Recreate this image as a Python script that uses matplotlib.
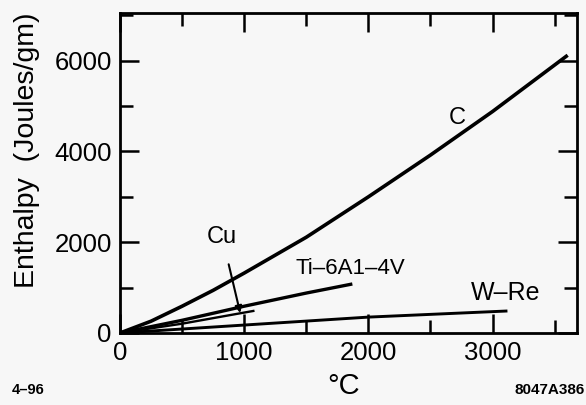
import matplotlib
matplotlib.use("Agg")
import matplotlib.pyplot as plt
from matplotlib.ticker import MultipleLocator

# Data
c_temp = [0, 250, 500, 750, 1000, 1500, 2000, 2500, 3000, 3605]
c_enth = [0, 260, 590, 940, 1320, 2110, 3000, 3920, 4880, 6120]

ti_temp = [0, 500, 1000, 1500, 1871]
ti_enth = [0, 280, 590, 880, 1080]

cu_temp = [0, 500, 1000, 1083]
cu_enth = [0, 205, 450, 490]

wre_temp = [0, 1000, 2000, 3120]
wre_enth = [0, 175, 350, 485]

plt.rcParams['font.family'] = ['Liberation Sans', 'DejaVu Sans']
bg = '#f7f7f7'
fig = plt.figure(figsize=(5.86, 4.05), dpi=100, facecolor=bg)
ax = fig.add_axes([0.2048, 0.1778, 0.7798, 0.7889])
ax.set_facecolor(bg)

ax.plot(c_temp, c_enth, color='black', lw=2.6, solid_capstyle='butt')
ax.plot(ti_temp, ti_enth, color='black', lw=2.4, solid_capstyle='butt')
ax.plot(cu_temp, cu_enth, color='black', lw=1.7, solid_capstyle='butt')
ax.plot(wre_temp, wre_enth, color='black', lw=2.1, solid_capstyle='butt')

ax.set_xlim(0, 3680)
ax.set_ylim(0, 7040)
ax.xaxis.set_major_locator(MultipleLocator(1000))
ax.xaxis.set_minor_locator(MultipleLocator(500))
ax.yaxis.set_major_locator(MultipleLocator(2000))
ax.yaxis.set_minor_locator(MultipleLocator(1000))
ax.tick_params(which='both', direction='in', top=True, right=True, width=1.8,
               labelsize=18.5, colors='black')
ax.tick_params(which='major', length=13.5, pad=6)
ax.tick_params(which='minor', length=9.5)
for s in ax.spines.values():
    s.set_linewidth(2.0)

ax.set_xlabel('°C', fontsize=21, va='center')
ax.xaxis.set_label_coords(0.49, -0.165)
ax.set_ylabel('Enthalpy  (Joules/gm)', fontsize=20.5, va='center')
ax.yaxis.set_label_coords(-0.203, 0.572)

ax.text(2718, 4736, 'C', fontsize=17, ha='center', va='center')
ax.text(1855, 1432, 'Ti–6A1–4V', fontsize=16, ha='center', va='center')
ax.text(3105, 881, 'W–Re', fontsize=18, ha='center', va='center')
ax.annotate('Cu', xy=(968, 440), xytext=(823, 2115), fontsize=17,
            ha='center', va='center',
            arrowprops=dict(arrowstyle='-|>', color='black', lw=1.5,
                            mutation_scale=10, shrinkA=10, shrinkB=0))

fig.text(12/586, 1 - 390/405, '4–96', fontsize=10.5, fontweight='bold',
         ha='left', va='center')
fig.text(585/586, 1 - 390/405, '8047A386', fontsize=11, fontweight='bold',
         ha='right', va='center')

fig.savefig('out.png', dpi=100, facecolor=bg)
